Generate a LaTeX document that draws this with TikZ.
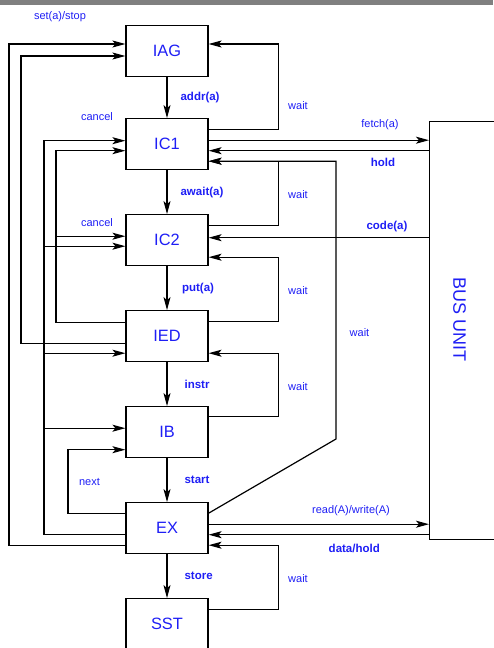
\documentclass[tikz,border=0pt]{standalone}
\usepackage{fontspec}
\setmainfont{Liberation Sans}
\usetikzlibrary{arrows.meta,positioning}
\definecolor{sigblue}{RGB}{30,30,245}
\begin{document}
\begin{tikzpicture}[x=1pt,y=-1pt,line width=1.2pt,node distance=43.8pt,
 >={Stealth[length=13pt,width=7pt,inset=3pt]},
 unit/.style={draw,minimum width=82pt,minimum height=51pt,text=sigblue,font=\fontsize{16.4}{19}\selectfont},
 sig/.style={text=sigblue,inner sep=0pt,font=\fontsize{11}{13}\selectfont},
 sigb/.style={text=sigblue,inner sep=0pt,font=\fontsize{11.5}{13}\selectfont\bfseries}]
\useasboundingbox (0,0) rectangle (493,648);
\fill[gray] (0,0) rectangle (493,4.7);
\node[unit] (iag) at (167,51) {IAG};
\node[unit,below=41pt of iag] (ic1) {IC1};
\node[unit,below=of ic1] (ic2) {IC2};
\node[unit,below=of ic2] (ied) {IED};
\node[unit,below=of ied] (ib) {IB};
\node[unit,below=of ib] (ex) {EX};
\node[unit,below=of ex] (sst) {SST};
\node[draw,inner sep=0pt,minimum width=80pt,minimum height=418pt,anchor=north west] (bus) at (429,121) {};
\node[rotate=-90,text=sigblue,font=\fontsize{18}{20}\selectfont] (busname) at (459.5,319.5) {BUS UNIT};
\coordinate (ch1) at (9,300);
\coordinate (ch2) at (21,200);
\coordinate (ch3) at (44,300);
\coordinate (ch4) at (56,200);
\coordinate (ch5) at (68,480);
\coordinate (bend) at (336,439);
\draw[->] (iag) -- node[sigb,right=13pt] {addr(a)} (ic1);
\draw[->] (ic1) -- node[sigb,right=13pt] {await(a)} (ic2);
\draw[->] (ic2) -- node[sigb,right=14.5pt] {put(a)} (ied);
\draw[->] (ied) -- node[sigb,right=17pt] {instr} (ib);
\draw[->] (ib) -- node[sigb,right=17pt] {start} (ex);
\draw[->] (ex) -- node[sigb,right=17pt] {store} (sst);
\draw[->] ([yshift=-17pt]ex.west) -| (ch1) |- ([yshift=7pt]iag.west);
\draw[->] ([yshift=-7pt]ied.west) -| (ch2) |- ([yshift=-5pt]iag.west);
\draw[->] ([yshift=-6.5pt]ex.west) -| (ch3) |- ([yshift=3.5pt]ic1.west);
\draw[->] ([yshift=-6pt]ic2.west -| ch3) -- ([yshift=-6pt]ic2.west);
\draw[->] ([yshift=-17pt]ied.west -| ch3) -- ([yshift=-17pt]ied.west);
\draw[->] ([yshift=4pt]ib.west -| ch3) -- ([yshift=4pt]ib.west);
\draw[->] ([yshift=14pt]ied.west) -| (ch4) |- ([yshift=-6.5pt]ic1.west);
\draw[->] ([yshift=4pt]ic2.west -| ch4) -- ([yshift=4pt]ic2.west);
\draw[->] ([yshift=15pt]ex.west) -| (ch5) |- ([yshift=-17.5pt]ib.west);
\draw[->] ([yshift=15pt]ic1.east) -- ++(70pt,0) |- ([yshift=7pt]iag.east);
\draw[->] ([yshift=4pt]ic1.east) -- ([yshift=4pt]ic1.east -| bus.west);
\draw[->] ([yshift=-6.5pt]ic1.east -| bus.west) -- ([yshift=-6.5pt]ic1.east);
\draw[->] ([yshift=15pt]ex.east) -- (bend) |- ([yshift=-17pt]ic1.east);
\draw[->] ([yshift=14.5pt]ic2.east) -- ++(70pt,0) |- ([yshift=-17pt]ic1.east);
\draw[->] ([yshift=2.5pt]ic2.east -| bus.west) -- ([yshift=2.5pt]ic2.east);
\draw[->] ([yshift=15pt]ied.east) -- ++(70pt,0) |- ([yshift=-17pt]ic2.east);
\draw[->] ([yshift=15.5pt]ib.east) -- ++(70pt,0) |- ([yshift=-17pt]ied.east);
\draw[->] ([yshift=4pt]ex.east) -- ([yshift=4pt]ex.east -| bus.west);
\draw[->] ([yshift=-6.5pt]ex.east -| bus.west) -- ([yshift=-6.5pt]ex.east);
\draw[->] ([yshift=15pt]sst.east) -- ++(70pt,0) |- ([yshift=-17pt]ex.east);
\node[sig] (lstop) at (60,17) {set(a)/stop};
\node[sig] (lcan1) at (97,117) {cancel};
\node[sig] (lcan2) at (97,223) {cancel};
\node[sig] (lnext) at (89.5,482) {next};
\node[sig] (lw1) at (298,106) {wait};
\node[sig] (lw2) at (298,194.3) {wait};
\node[sig] (lw3) at (298,290.7) {wait};
\node[sig] (lw4) at (298,386.7) {wait};
\node[sig] (lw5) at (298,578.3) {wait};
\node[sig] (lw6) at (359.5,333) {wait};
\node[sig] (lfetch) at (380,124.3) {fetch(a)};
\node[sigb] (lhold) at (383,162.3) {hold};
\node[sigb] (lcode) at (387,226.7) {code(a)};
\node[sig] (lrw) at (351,510.7) {read(A)/write(A)};
\node[sigb] (ldata) at (354.3,548.3) {data/hold};
\end{tikzpicture}
\end{document}
